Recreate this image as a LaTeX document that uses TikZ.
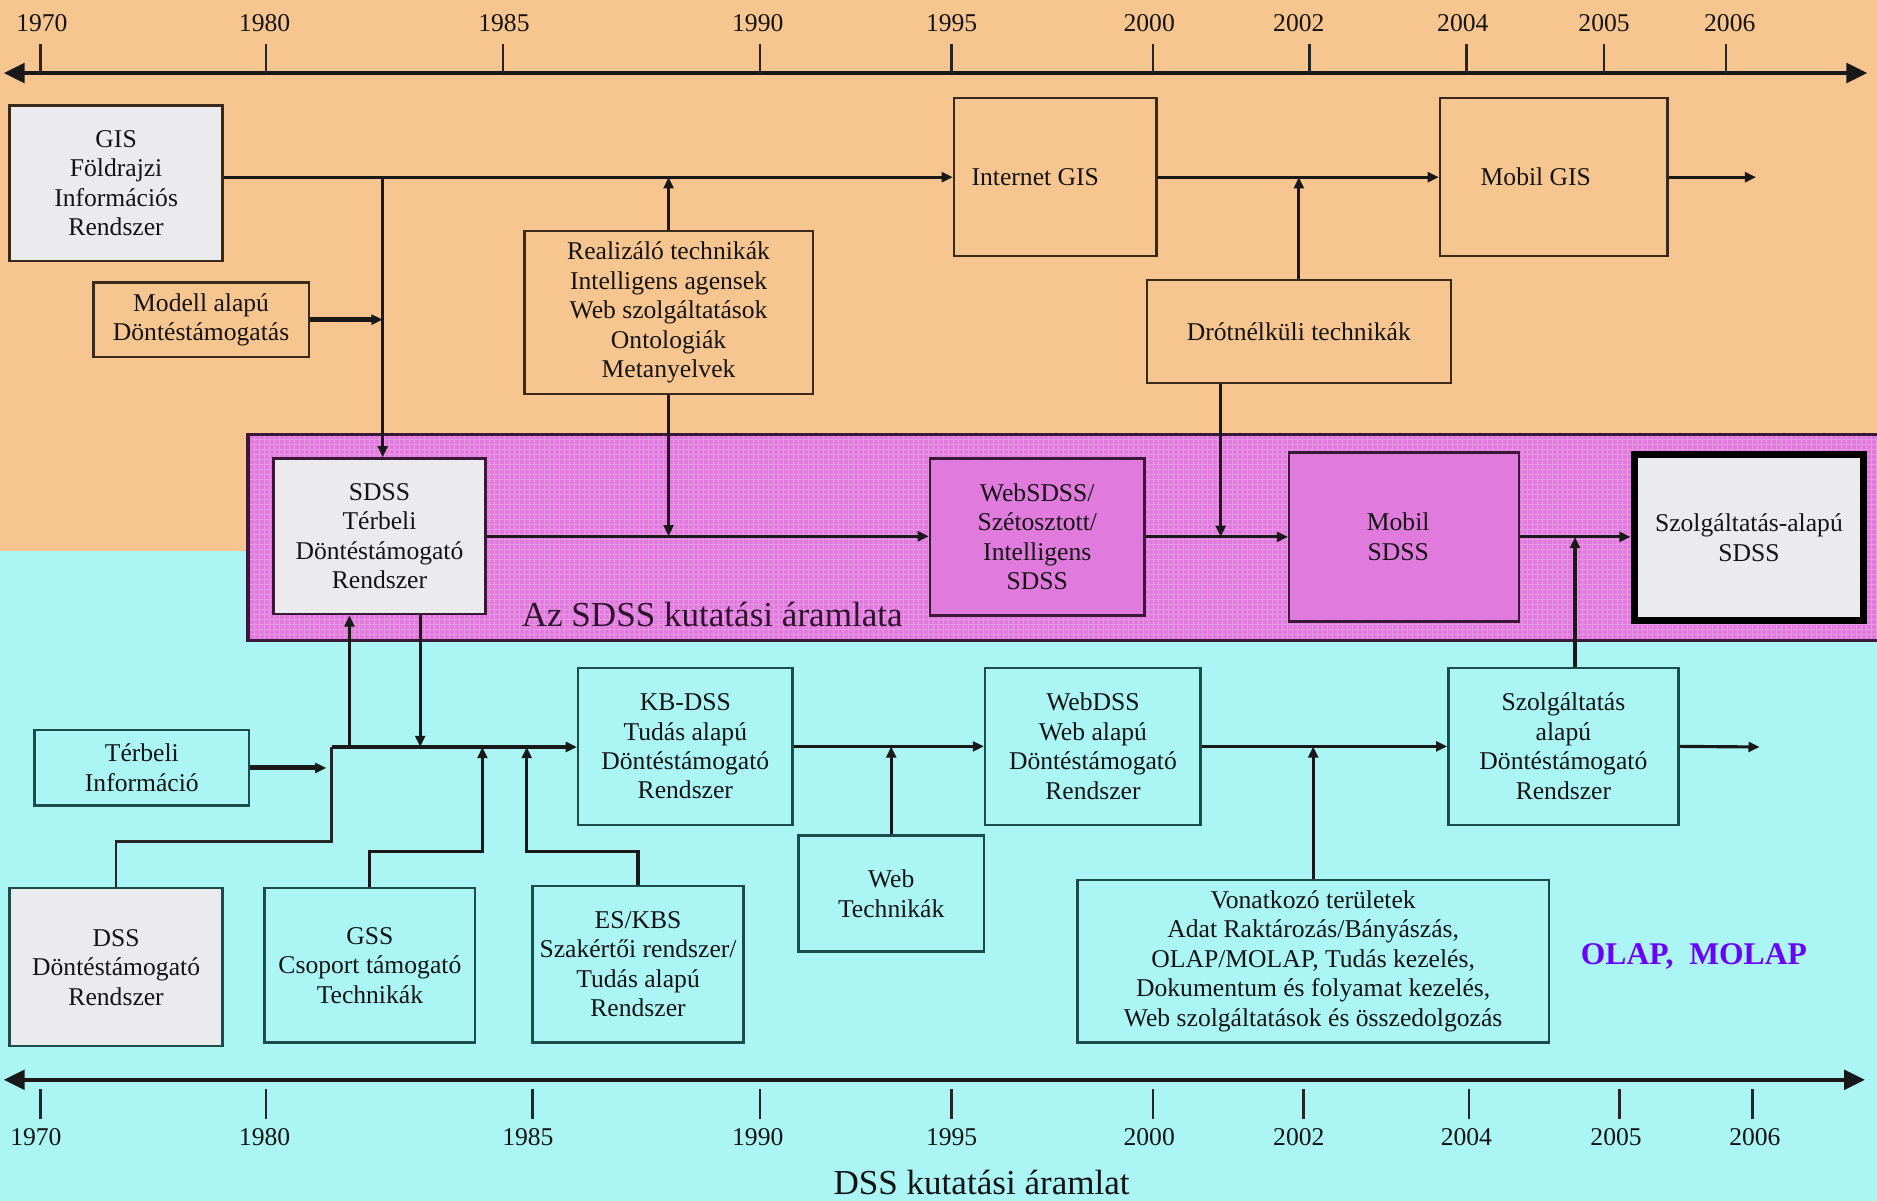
\documentclass[tikz,border=0pt]{standalone}
\usepackage{fontspec}
\setmainfont{Liberation Serif}
\usetikzlibrary{arrows.meta,calc}
\definecolor{bgorange}{HTML}{F7C590}
\definecolor{bgcyan}{HTML}{ABF5F5}
\definecolor{bandpink}{HTML}{E07ADC}
\definecolor{bandgrid}{HTML}{EA96E6}
\definecolor{boxgray}{HTML}{EBEBED}
\definecolor{olapviolet}{HTML}{6A00FF}
\definecolor{edgebrown}{HTML}{3A2A1C}
\definecolor{edgeteal}{HTML}{1E4C4C}
\definecolor{edgeplum}{HTML}{3A1838}
\definecolor{inkdark}{HTML}{141414}

\begin{document}
\begin{tikzpicture}[x=0.012cm,y=-0.012cm,
  every node/.style={font=\fontsize{7.3}{8.4}\selectfont, text=inkdark},
  wh/.style 2 args={minimum width=#1*0.012cm, minimum height=#2*0.012cm},
  box/.style={draw, line width=0.7pt, inner sep=0pt, align=center, rectangle},
  obox/.style={box, draw=edgebrown, fill=bgorange},
  cbox/.style={box, draw=edgeteal, fill=bgcyan},
  pbox/.style={box, draw=edgeplum, fill=bandpink},
  gbox/.style={box, draw=#1, fill=boxgray},
  conn/.style={line width=0.9pt, draw=black!90, -{Triangle[length=3.2pt,width=2.8pt]}},
  connthick/.style={conn, line width=1.4pt},
  link/.style={line width=0.7pt, draw=black!85},
  axisline/.style={line width=1.3pt, draw=black!90, {Triangle[length=6pt,width=5.5pt]}-{Triangle[length=6pt,width=5.5pt]}},
  tickmark/.style={line width=0.7pt, draw=black!85},
  yearlabel/.style={font=\fontsize{7.3}{8.4}\selectfont},
  bigtitle/.style={font=\fontsize{10}{12}\selectfont}
]
\useasboundingbox (0,0) rectangle (1568,1003);

% background zones
\fill[bgorange] (0,0) rectangle (1568,460);
\fill[bgcyan] (0,460) rectangle (1568,1003);

% SDSS research band
\fill[bandpink] (207,363) rectangle (1568,535);
\begin{scope}
  \clip (207,535) rectangle (1568,363);
  \draw[bandgrid, line width=0.2pt, step=0.05cm] (207,535) grid (1568,363);
\end{scope}
\draw[line width=1pt, draw=edgeplum] (1568,363) -- (207,363) -- (207,535) -- (1568,535);
\node[bigtitle, text=edgeplum!80!black] (bandlabel) at (595,513) {Az SDSS kutatási áramlata};

% time axes
\coordinate (topL) at (3,61);
\coordinate (topR) at (1560,61);
\draw[axisline] (topL) -- (topR);
\foreach \yr/\tx/\lx in {1970/34/35, 1980/222/221, 1985/420/421, 1990/635/633, 1995/795/795,
                         2000/963/960, 2002/1094/1085, 2004/1225/1222, 2005/1340/1340, 2006/1442/1445}{
  \draw[tickmark] (\tx,37) -- (\tx,61);
  \node[yearlabel] (top\yr) at (\lx,19) {\yr};
}
\coordinate (botL) at (3,902);
\coordinate (botR) at (1558,902);
\draw[axisline] (botL) -- (botR);
\foreach \yr/\tx/\lx in {1970/34/30, 1980/222/221, 1985/445/441, 1990/635/633, 1995/795/795,
                         2000/963/960, 2002/1089/1085, 2004/1227/1225, 2005/1353/1350, 2006/1464/1466}{
  \draw[tickmark] (\tx,910) -- (\tx,935);
  \node[yearlabel] (bot\yr) at (\lx,950) {\yr};
}
\node[bigtitle] (dsstitle) at (820,988) {DSS kutatási áramlat};

% GIS stream
\node[gbox=edgebrown, wh={178}{130}] (GIS) at (97,153) {GIS\\Földrajzi\\Információs\\Rendszer};
\node[obox, wh={180}{62}] (Modell) at (168,267) {Modell alapú\\Döntéstámogatás};
\node[obox, wh={241}{136}] (Real) at (558.5,261) {Realizáló technikák\\Intelligens agensek\\Web szolgáltatások\\Ontologiák\\Metanyelvek};
\node[obox, wh={169}{132}] (InetGIS) at (881.5,148) {Internet GIS\hspace*{0.4cm}};
\node[obox, wh={190}{132}] (MobilGIS) at (1298,148) {\raisebox{-0.09cm}{Mobil GIS}\hspace*{0.36cm}};
\node[obox, wh={254}{86}] (Drot) at (1085,277) {Drótnélküli technikák};

% SDSS stream
\node[gbox=edgeplum, wh={177}{130}] (SDSS) at (317,448) {SDSS\\Térbeli\\Döntéstámogató\\Rendszer};
\node[pbox, wh={179}{131}] (WebSDSS) at (866.5,448.5) {WebSDSS/\\Szétosztott/\\Intelligens\\SDSS};
\node[pbox, wh={192}{141}] (MobilSDSS) at (1173,448.5) {\raisebox{-0.04cm}{Mobil}\hspace*{0.12cm}\\\raisebox{-0.04cm}{SDSS}\hspace*{0.12cm}};
\node[gbox=black, line width=2pt, wh={192}{138}] (SzolgSDSS) at (1461,449) {Szolgáltatás-alapú\\SDSS};

% DSS stream
\node[cbox, wh={179}{131}] (KBDSS) at (572.5,623.5) {KB-DSS\\Tudás alapú\\Döntéstámogató\\Rendszer};
\node[cbox, wh={180}{131}] (WebDSS) at (913,623.5) {WebDSS\\Web alapú\\Döntéstámogató\\Rendszer};
\node[cbox, wh={192}{131}] (SzolgDSS) at (1306,623.5) {Szolgáltatás\\alapú\\Döntéstámogató\\Rendszer};
\node[cbox, wh={179}{63}] (Terbeli) at (118.5,641.5) {Térbeli\\Információ};
\node[gbox=edgeteal, wh={178}{132}] (DSS) at (97,808) {DSS\\Döntéstámogató\\Rendszer};
\node[cbox, wh={176}{129}] (GSS) at (309,806.5) {GSS\\Csoport támogató\\Technikák};
\node[cbox, wh={176}{131}] (ESKBS) at (533,805.5) {ES/KBS\\Szakértői rendszer/\\Tudás alapú\\Rendszer};
\node[cbox, wh={155}{97}] (WebTech) at (744.5,746.5) {Web\\Technikák};
\node[cbox, wh={394}{136}] (Vonat) at (1097,803) {Vonatkozó területek\\Adat Raktározás/Bányászás,\\OLAP/MOLAP, Tudás kezelés,\\Dokumentum és folyamat kezelés,\\Web szolgáltatások és összedolgozás};
\node[font=\bfseries\fontsize{9}{10}\selectfont, text=olapviolet] (olap) at (1415,799) {OLAP,\ \ MOLAP};

% connectors: GIS stream
\coordinate (gisend) at (1467,148);
\draw[conn] (GIS.east |- InetGIS.west) -- (InetGIS.west);
\coordinate (sdssin) at ($(SDSS.north west)!0.515!(SDSS.north east)$);
\draw[conn] (sdssin |- InetGIS.west) -- (sdssin);
\draw[connthick] (Modell.east) -- (Modell.east -| sdssin);
\draw[conn] (Real.north) -- (Real.north |- InetGIS.west);
\draw[conn] (Real.south) -- (Real.south |- SDSS.east);
\draw[conn] (InetGIS.east) -- (MobilGIS.west);
\draw[conn] (Drot.north) -- (Drot.north |- InetGIS.east);
\draw[conn] (MobilGIS.east) -- (gisend);
\coordinate (drotfoot) at ($(Drot.south west)!0.245!(Drot.south east)$);
\draw[conn] (drotfoot) -- (drotfoot |- MobilSDSS.west);

% connectors: SDSS stream
\draw[conn] (SDSS.east) -- (SDSS.east -| WebSDSS.west);
\draw[conn] (WebSDSS.east) -- (WebSDSS.east -| MobilSDSS.west);
\draw[conn] (MobilSDSS.east) -- (MobilSDSS.east -| SzolgSDSS.west);
\coordinate (szolgtop) at ($(SzolgDSS.north west)!0.55!(SzolgDSS.north east)$);
\draw[conn] (szolgtop) -- (szolgtop |- MobilSDSS.east);

% connectors: DSS stream
\coordinate (j0) at (277,624);
\coordinate (j1) at (277,703);
\coordinate (gk) at (403,711);
\coordinate (ek) at (440,711);
\coordinate (dssend) at (1470,624);
\draw[link] (DSS.north) |- (j1) -- (j0);
\draw[conn] (j0) -- (j0 -| KBDSS.west);
\coordinate (sdssup) at ($(SDSS.south west)!0.36!(SDSS.south east)$);
\coordinate (sdssdown) at ($(SDSS.south west)!0.69!(SDSS.south east)$);
\draw[conn] (sdssup |- j0) -- (sdssup);
\draw[conn] (sdssdown) -- (sdssdown |- j0);
\draw[connthick, shorten >=1.5pt] (Terbeli.east) -- (Terbeli.east -| j0);
\draw[conn] (GSS.north) |- (gk) -- (gk |- j0);
\draw[conn] (ESKBS.north) |- (ek) -- (ek |- j0);
\draw[conn] (KBDSS.east) -- (KBDSS.east -| WebDSS.west);
\draw[conn] (WebTech.north) -- (WebTech.north |- WebDSS.west);
\draw[conn] (WebDSS.east) -- (SzolgDSS.west);
\draw[conn] (Vonat.north) -- (Vonat.north |- WebDSS.east);
\draw[conn] (SzolgDSS.east) -- (dssend);
\end{tikzpicture}
\end{document}
